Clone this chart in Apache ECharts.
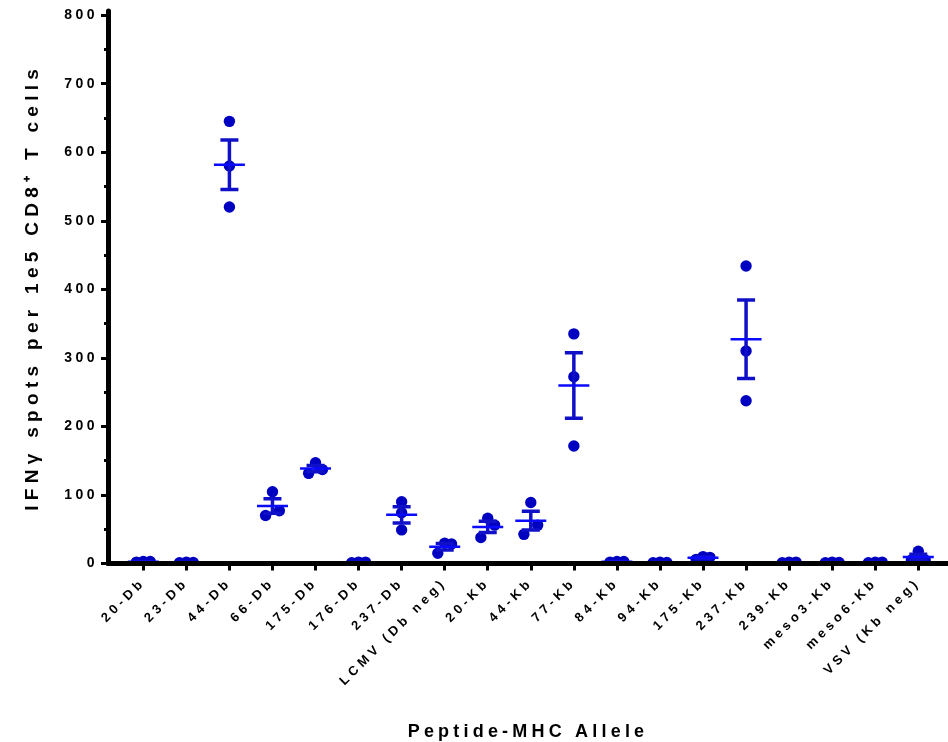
<!DOCTYPE html>
<html>
<head>
<meta charset="utf-8">
<title>IFN-gamma ELISpot</title>
<script src="https://cdn.jsdelivr.net/npm/echarts@6/dist/echarts.min.js"></script>
<style>
  html, body { margin: 0; padding: 0; background: #fff; }
  #chart { width: 948px; height: 742px; }
</style>
</head>
<body>
<div id="chart"></div>
<script>
// peptide-MHC alleles on the x axis
var categories = ['20-Db', '23-Db', '44-Db', '66-Db', '175-Db', '176-Db', '237-Db', 'LCMV (Db neg)',
    '20-Kb', '44-Kb', '77-Kb', '84-Kb', '94-Kb', '175-Kb', '237-Kb', '239-Kb', 'meso3-Kb', 'meso6-Kb', 'VSV (Kb neg)'];

// three replicate wells per peptide (spots per 1e5 CD8+ T cells)
var rep1 = [3, 1.5, 645, 104.7, 147, 2, 90, 29.5, 66, 89, 335, 3, 1.5, 10, 434, 2, 1.5, 2, 18];
var rep2 = [2, 2, 580, 77, 137, 1, 74, 28.5, 56, 56, 272.5, 2, 1, 9, 310, 1, 1, 1, 5];
var rep3 = [3, 1, 520, 70, 131.5, 2, 49, 15, 38, 42.5, 171.5, 3, 2, 6, 237.5, 2, 2, 2, 5];

var yTicks = [0, 100, 200, 300, 400, 500, 600, 700, 800];
var yMinorTicks = [50, 150, 250, 350, 450, 550, 650, 750];

var dotColor = '#0000c0';
var barColor = '#1010c8';
var meanColor = '#0a0aff';
var font = 'Liberation Sans, Arial, Helvetica, sans-serif';

// the graph uses widely spaced lettering; spacing per font size
var spacing = { 13: 4, 14: 3.5, 18: 4.2, 19: 5.3 };
(function () {
    var proto = CanvasRenderingContext2D.prototype;
    var fill = proto.fillText;
    proto.fillText = function () {
        var m = /(\d+(?:\.\d+)?)px/.exec(this.font);
        if ('letterSpacing' in this) {
            var s = m ? spacing[Math.round(parseFloat(m[1]))] : 0;
            this.letterSpacing = (s || 0) + 'px';
        }
        return fill.apply(this, arguments);
    };
})();

// points, mean and SEM per peptide
var dots = [];
var bars = [];
categories.forEach(function (name, i) {
    var vals = [rep1[i], rep2[i], rep3[i]].sort(function (a, b) { return b - a; });
    var mean = (vals[0] + vals[1] + vals[2]) / 3;
    var ss = 0;
    vals.forEach(function (v) { ss += (v - mean) * (v - mean); });
    var sem = Math.sqrt(ss / 2) / Math.sqrt(3);
    bars.push([i, mean, mean - sem, mean + sem]);

    // overlapping replicates are spread sideways: top centre, then right, then left
    var crowded = (vals[0] - vals[1] < 16) || (vals[1] - vals[2] < 16);
    var shift = [0, 0.16, -0.16];
    vals.forEach(function (v, k) {
        dots.push([crowded ? i + shift[k] : i, v]);
    });
});

var chart = echarts.init(document.getElementById('chart'));

var option = {
    animation: false,
    grid: { left: 108, right: 0, top: 11, bottom: 178.5, outerBoundsMode: 'none', containLabel: false },
    xAxis: {
        type: 'value',
        min: -0.82,
        max: 18.69,
        z: 10,
        name: 'Peptide-MHC Allele',
        nameLocation: 'middle',
        nameGap: 160,
        nameTextStyle: { fontFamily: font, fontSize: 18, fontWeight: 'bold', color: '#000' },
        splitLine: { show: false },
        axisLine: { onZero: false, lineStyle: { color: '#000', width: 5 } },
        axisTick: {
            customValues: categories.map(function (c, i) { return i; }),
            length: 7,
            lineStyle: { color: '#000', width: 3 }
        },
        axisLabel: {
            customValues: categories.map(function (c, i) { return i; }),
            formatter: function (v) { return categories[Math.round(v)]; },
            rotate: 45,
            margin: 17,
            fontFamily: font,
            fontSize: 13,
            fontWeight: 'bold',
            color: '#000'
        }
    },
    yAxis: [{
        type: 'value',
        position: 'left',
        min: 0,
        max: 806,
        z: 10,
        name: 'IFNγ spots per 1e5 CD8⁺ T cells',
        nameLocation: 'middle',
        nameGap: 66,
        nameTextStyle: { fontFamily: font, fontSize: 19, fontWeight: 'bold', color: '#000' },
        splitLine: { show: false },
        axisLine: { show: true, onZero: false, lineStyle: { color: '#000', width: 5 } },
        axisTick: { show: true, customValues: yTicks, length: 7, lineStyle: { color: '#000', width: 3 } },
        axisLabel: {
            customValues: yTicks,
            margin: 10,
            fontFamily: font,
            fontSize: 14,
            fontWeight: 'bold',
            color: '#000'
        }
    }, {
        // minor ticks at the half hundreds
        type: 'value',
        position: 'left',
        offset: 0,
        min: 0,
        max: 806,
        z: 10,
        splitLine: { show: false },
        axisLine: { show: false, onZero: false },
        axisTick: { show: true, customValues: yMinorTicks, length: 4, lineStyle: { color: '#000', width: 3 } },
        axisLabel: { show: false }
    }],
    series: [{
        // replicate wells
        type: 'custom',
        clip: true,
        z: 2,
        data: dots,
        renderItem: function (params, api) {
            var p = api.coord([api.value(0), api.value(1)]);
            return {
                type: 'circle',
                shape: { cx: p[0], cy: p[1], r: 5.7 },
                style: { fill: dotColor }
            };
        }
    }, {
        // mean with SEM
        type: 'custom',
        clip: true,
        z: 3,
        data: bars,
        renderItem: function (params, api) {
            var x = api.value(0);
            var pm = api.coord([x, api.value(1)]);
            var pl = api.coord([x, api.value(2)]);
            var ph = api.coord([x, api.value(3)]);
            var bar = { stroke: barColor, lineWidth: 3.5 };
            return {
                type: 'group',
                children: [
                    { type: 'line', shape: { x1: pl[0], y1: pl[1], x2: ph[0], y2: ph[1] }, style: bar },
                    { type: 'line', shape: { x1: ph[0] - 9, y1: ph[1], x2: ph[0] + 9, y2: ph[1] }, style: bar },
                    { type: 'line', shape: { x1: pl[0] - 9, y1: pl[1], x2: pl[0] + 9, y2: pl[1] }, style: bar },
                    { type: 'line', shape: { x1: pm[0] - 15.5, y1: pm[1], x2: pm[0] + 15.5, y2: pm[1] },
                        style: { stroke: meanColor, lineWidth: 2.5 } }
                ]
            };
        }
    }]
};

chart.setOption(option);
</script>
</body>
</html>
